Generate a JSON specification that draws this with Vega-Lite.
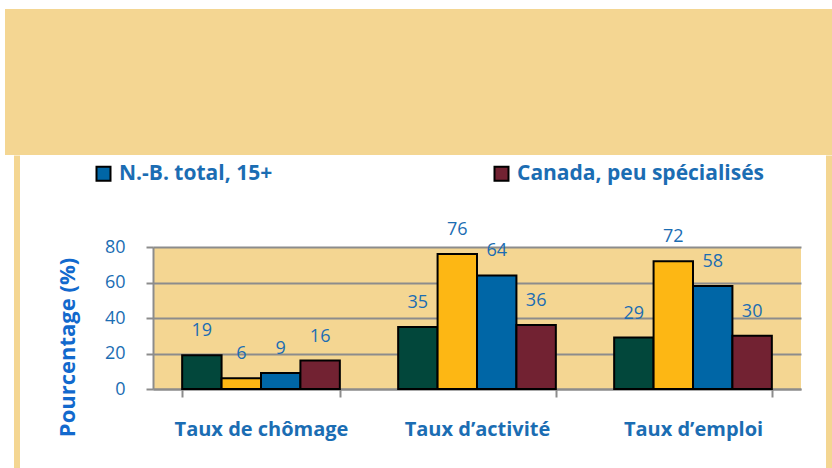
{
  "$schema": "https://vega.github.io/schema/vega-lite/v6.json",
  "background": "white",
  "padding": {"left": 5, "top": 9, "right": 0, "bottom": 0},
  "spacing": 0,
  "config": {"view": {"stroke": null}, "concat": {"spacing": 0}},
  "resolve": {"scale": {"color": "independent"}, "legend": {"color": "independent"}},
  "datasets": {
    "taux": [
      {"indicateur": "Taux de chômage", "serie": "N.-B., peu spécialisés", "valeur": 19},
      {"indicateur": "Taux de chômage", "serie": "N.-B., hautement spécialisés", "valeur": 6},
      {"indicateur": "Taux de chômage", "serie": "N.-B. total, 15+", "valeur": 9},
      {"indicateur": "Taux de chômage", "serie": "Canada, peu spécialisés", "valeur": 16},
      {"indicateur": "Taux d’activité", "serie": "N.-B., peu spécialisés", "valeur": 35},
      {"indicateur": "Taux d’activité", "serie": "N.-B., hautement spécialisés", "valeur": 76},
      {"indicateur": "Taux d’activité", "serie": "N.-B. total, 15+", "valeur": 64},
      {"indicateur": "Taux d’activité", "serie": "Canada, peu spécialisés", "valeur": 36},
      {"indicateur": "Taux d’emploi", "serie": "N.-B., peu spécialisés", "valeur": 29},
      {"indicateur": "Taux d’emploi", "serie": "N.-B., hautement spécialisés", "valeur": 72},
      {"indicateur": "Taux d’emploi", "serie": "N.-B. total, 15+", "valeur": 58},
      {"indicateur": "Taux d’emploi", "serie": "Canada, peu spécialisés", "valeur": 30}
    ],
    "vide": []
  },
  "vconcat": [
    {
      "width": 827,
      "height": 146,
      "data": {"name": "vide"},
      "mark": "rect",
      "view": {"fill": "#F4D692", "stroke": null}
    },
    {
      "columns": 6,
      "align": "none",
      "spacing": 0,
      "resolve": {"scale": {"color": "independent"}, "legend": {"color": "independent"}},
      "concat": [
        {"width": 9, "height": 320, "data": {"name": "vide"}, "mark": "rect", "view": {"stroke": null}},
        {
          "width": 6,
          "height": 320,
          "data": {"name": "vide"},
          "mark": "point",
          "view": {"fill": "#F4D692", "stroke": null},
          "encoding": {
            "x": {
              "field": "a",
              "type": "quantitative",
              "scale": {"domain": [0, 6], "nice": false},
              "axis": {"orient": "top", "values": [0.5, 1.5, 2.5, 3.5, 4.5, 5.5], "labels": false, "domain": false, "grid": false, "title": null, "tickSize": 91.5, "tickWidth": 1, "tickRound": false, "translate": 0, "tickColor": "#F4D692"}
            }
          }
        },
        {"width": 36, "height": 320, "data": {"name": "vide"}, "mark": "rect", "view": {"stroke": null}},
        {
          "width": 648,
          "height": 142,
          "data": {"name": "taux"},
          "view": {"fill": "#F4D692", "stroke": null},
          "encoding": {
            "x": {
              "field": "indicateur",
              "type": "nominal",
              "sort": ["Taux de chômage", "Taux d’activité", "Taux d’emploi"],
              "scale": {"paddingInner": 0.27, "paddingOuter": 0.135},
              "axis": {
                "title": null,
                "labelAngle": 0,
                "tickBand": "extent",
                "domainColor": "#8C8C8C",
                "domainWidth": 2,
                "tickColor": "#8C8C8C",
                "tickWidth": 2,
                "tickSize": 8,
                "labelFont": "Open Sans",
                "labelFontSize": 20,
                "labelFontWeight": "bold",
                "labelColor": "#1B6DB3",
                "labelPadding": 22
              }
            },
            "xOffset": {
              "field": "serie",
              "type": "nominal",
              "sort": ["N.-B., peu spécialisés", "N.-B., hautement spécialisés", "N.-B. total, 15+", "Canada, peu spécialisés"],
              "scale": {"paddingInner": 0, "paddingOuter": 0}
            },
            "y": {
              "field": "valeur",
              "type": "quantitative",
              "scale": {"domain": [0, 80]},
              "axis": {
                "values": [0, 20, 40, 60, 80],
                "gridColor": "#8C8C8C",
                "gridWidth": 2,
                "domainColor": "#8C8C8C",
                "domainWidth": 2,
                "tickColor": "#8C8C8C",
                "tickWidth": 2,
                "tickSize": 7,
                "labelPadding": 21,
                "labelFont": "Open Sans",
                "labelFontSize": 18,
                "labelColor": "#1B6DB3",
                "title": "Pourcentage (%)",
                "titleFont": "Open Sans",
                "titleFontSize": 22,
                "titleFontWeight": "bold",
                "titleColor": "#1269CD",
                "titlePadding": 25,
                "titleY": 100
              }
            }
          },
          "layer": [
            {
              "mark": {"type": "bar", "stroke": "black", "strokeWidth": 2},
              "encoding": {
                "color": {
                  "field": "serie",
                  "type": "nominal",
                  "scale": {
                    "domain": ["N.-B., peu spécialisés", "N.-B., hautement spécialisés", "N.-B. total, 15+", "Canada, peu spécialisés"],
                    "range": ["#02473B", "#FDB714", "#0066A6", "#722232"]
                  },
                  "legend": {
                    "values": ["N.-B. total, 15+", "Canada, peu spécialisés"],
                    "title": null,
                    "orient": "none",
                    "legendX": -68,
                    "legendY": -92,
                    "direction": "horizontal",
                    "columns": 2,
                    "columnPadding": 217,
                    "padding": 8,
                    "labelFont": "Open Sans",
                    "labelFontSize": 21,
                    "labelFontWeight": "bold",
                    "labelColor": "#1B6DB3",
                    "labelOffset": 5,
                    "labelLimit": 400,
                    "symbolType": "square",
                    "symbolSize": 196,
                    "symbolStrokeColor": "black",
                    "symbolStrokeWidth": 2
                  }
                }
              }
            },
            {
              "mark": {"type": "text", "dy": -24, "baseline": "middle", "font": "Open Sans", "fontSize": 18, "color": "#1B6DB3"},
              "encoding": {"text": {"field": "valeur", "type": "quantitative"}}
            }
          ]
        },
        {"width": 25, "height": 320, "data": {"name": "vide"}, "mark": "rect", "view": {"stroke": null}},
        {
          "width": 9,
          "height": 320,
          "data": {"name": "vide"},
          "mark": "point",
          "view": {"fill": "#F4D692", "stroke": null},
          "encoding": {
            "x": {
              "field": "a",
              "type": "quantitative",
              "scale": {"domain": [0, 9], "nice": false},
              "axis": {"orient": "top", "values": [0.5, 1.5, 2.5, 3.5, 4.5, 5.5, 6.5, 7.5, 8.5], "labels": false, "domain": false, "grid": false, "title": null, "tickSize": 91.5, "tickWidth": 1, "tickRound": false, "translate": 0, "tickColor": "#F4D692"}
            }
          }
        }
      ]
    }
  ]
}
